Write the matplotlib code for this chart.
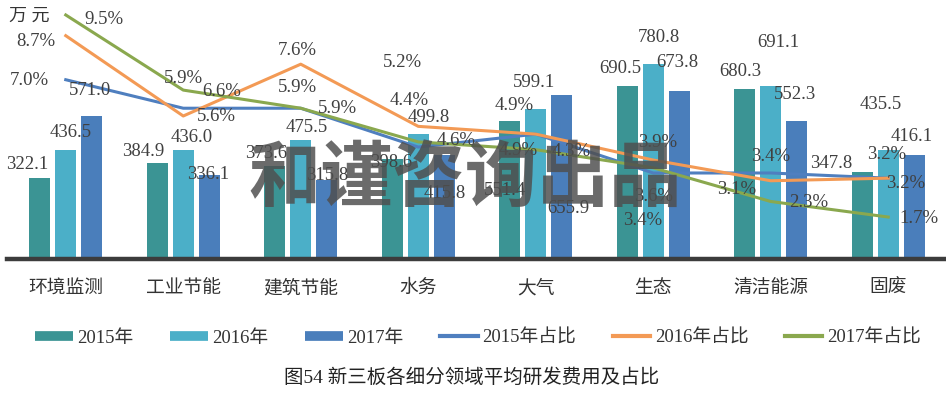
import numpy as np
import matplotlib
matplotlib.use("Agg")
import matplotlib.pyplot as plt
from matplotlib.lines import Line2D

plt.rcParams['font.family'] = ['Liberation Serif', 'Noto Sans CJK SC']

categories = ['环境监测', '工业节能', '建筑节能', '水务', '大气', '生态', '清洁能源', '固废']
years = ['2015年', '2016年', '2017年']
cost_2015 = [322.1, 384.9, 373.6, 398.6, 551.4, 690.5, 680.3, 347.8]
cost_2016 = [436.5, 436.0, 475.5, 499.8, 599.1, 780.8, 691.1, 435.5]
cost_2017 = [571.0, 336.1, 315.8, 415.8, 655.9, 673.8, 552.3, 416.1]
ratio_2015 = [7.0, 5.9, 5.9, 4.4, 4.9, 3.4, 3.4, 3.2]
ratio_2016 = [8.7, 5.6, 7.6, 5.2, 4.9, 3.9, 3.1, 3.2]
ratio_2017 = [9.5, 6.6, 5.9, 4.6, 4.3, 3.6, 2.3, 1.7]

# label offsets in pixels (the source chart has its labels scattered around)
bar_off = [
    [(-12.5, 13.5), (-14.5, 11), (-9, 12.6), (-1.5, -3), (-5, -69), (-6.5, 18), (-4, 17), (-31.5, 9)],
    [(4.5, 17), (8.5, 12), (5.5, 13), (10.5, 17), (-1.5, 27), (6, 26), (8, 44), (-7.5, 46)],
    [(-1.5, 26), (-1, 0), (0, 5), (0, -38), (7, -113), (-1.5, 28), (-2, 26), (-2.5, 18)],
]
pct_off = [
    [(-36.5, -1), (0, 30), (-3.5, 21), (-9, 47), (-21.5, 29), (-11, -48), (0, 16), (-2, 24)],
    [(-30, -6), (33, -1), (-3.5, 14), (-15.5, 64), (-18, -16), (4.5, 18), (-34.5, -9), (17.5, -5)],
    [(38, -5), (38, -1), (37, 0), (38, 1), (35, -2), (0, -29), (37.5, -1), (31, -1)],
]

bar_colors = ['#3b9494', '#4bafc8', '#4a7ebb']
line_colors = ['#4f7fbf', '#f39a55', '#8aa84e']
txt_color = '#404040'

W, H = 946, 399
fig = plt.figure(figsize=(W / 100, H / 100), dpi=100)
ax = fig.add_axes([7 / W, 140 / H, 940 / W, 250 / H])
x = np.arange(len(categories))
step = 26 / 117.5
width = 21 / 117.5

ax.set_xlim(-0.5, 7.5)
ax.set_ylim(0, 1000)
costs = [cost_2015, cost_2016, cost_2017]
for i, vals in enumerate(costs):
    ax.bar(x + (i - 1) * step, vals, width, color=bar_colors[i], zorder=2)

ax.axhline(0, color='#3c3c3c', lw=3.2, zorder=3, clip_on=False)
for s in ax.spines.values():
    s.set_visible(False)
ax.set_yticks([])
ax.set_xticks(x)
ax.set_xticklabels(categories, fontsize=13.5, color='#333333')
ax.tick_params(axis='x', length=0, pad=15)

ax2 = ax.twinx()
ax2.set_ylim(0.08, 9.73)
ax2.set_yticks([])
for s in ax2.spines.values():
    s.set_visible(False)
ratios = [ratio_2015, ratio_2016, ratio_2017]
for i, vals in enumerate(ratios):
    ax2.plot(x, vals, color=line_colors[i], lw=2.2, zorder=3)

for i, vals in enumerate(costs):
    for j, v in enumerate(vals):
        ax2.annotate(f'{v:.1f}', xy=(x[j] + (i - 1) * step, v), xycoords=ax.transData,
                     xytext=bar_off[i][j], textcoords='offset pixels',
                     ha='center', va='center', fontsize=13.5, color=txt_color, zorder=5)
for i, vals in enumerate(ratios):
    for j, v in enumerate(vals):
        ax2.annotate(f'{v:.1f}%', xy=(x[j], v), xytext=pct_off[i][j],
                     textcoords='offset pixels', ha='center', va='center',
                     fontsize=13.5, color=txt_color, zorder=5)

fig.text(29 / W, 1 - 16 / H, '万 元', ha='center', va='center', fontsize=13, color='#333333')

handles = [Line2D([], [], color=c, lw=7, solid_capstyle='butt') for c in bar_colors]
handles += [Line2D([], [], color=c, lw=3) for c in line_colors]
labels = years + [y + '占比' for y in years]
fig.legend(handles, labels, loc='center', bbox_to_anchor=(478 / W, 1 - 338 / H), ncol=6,
           frameon=False, fontsize=13.5, handlelength=2.0, handletextpad=0.25,
           columnspacing=1.95, labelcolor='#333333')

fig.text(472 / W, 1 - 378 / H, '图54 新三板各细分领域平均研发费用及占比', ha='center', va='center',
         fontsize=14, color='#222222')

fig.text(465 / W, 1 - 180 / H, '和谨咨询出品', ha='center', va='center', fontsize=52,
         family=['Noto Sans CJK SC'], weight='bold', color='#4f4f4f', alpha=0.84, zorder=10)

fig.savefig('out.png', dpi=100)
